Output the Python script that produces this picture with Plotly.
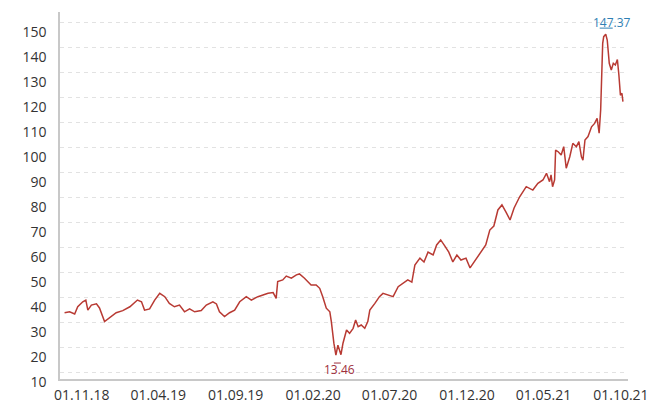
import plotly.graph_objects as go

# ---- data ----
dates = [
    "2018-09-28", "2018-10-08", "2018-10-18", "2018-10-24", "2018-11-03", "2018-11-09",
    "2018-11-13", "2018-11-20", "2018-11-30", "2018-12-06", "2018-12-16", "2018-12-26",
    "2019-01-08", "2019-01-21", "2019-02-04", "2019-02-19", "2019-02-27", "2019-03-05",
    "2019-03-15", "2019-03-25", "2019-04-04", "2019-04-14", "2019-04-23", "2019-05-03",
    "2019-05-13", "2019-05-23", "2019-06-02", "2019-06-12", "2019-06-25", "2019-07-05",
    "2019-07-18", "2019-07-25", "2019-07-31", "2019-08-10", "2019-08-20", "2019-08-30",
    "2019-09-09", "2019-09-22", "2019-10-02", "2019-10-15", "2019-10-25", "2019-11-04",
    "2019-11-14", "2019-11-20", "2019-11-23", "2019-12-03", "2019-12-10", "2019-12-20",
    "2019-12-30", "2020-01-05", "2020-01-15", "2020-01-28", "2020-02-07", "2020-02-14",
    "2020-02-20", "2020-02-27", "2020-03-05", "2020-03-08", "2020-03-13", "2020-03-17",
    "2020-03-21", "2020-03-27", "2020-03-31", "2020-04-07", "2020-04-13", "2020-04-20",
    "2020-04-25", "2020-04-30", "2020-05-06", "2020-05-13", "2020-05-19", "2020-05-23",
    "2020-06-02", "2020-06-11", "2020-06-18", "2020-06-28", "2020-07-08", "2020-07-18",
    "2020-07-28", "2020-08-06", "2020-08-14", "2020-08-20", "2020-08-30", "2020-09-07",
    "2020-09-15", "2020-09-25", "2020-10-02", "2020-10-10", "2020-10-18", "2020-10-26",
    "2020-11-03", "2020-11-11", "2020-11-19", "2020-11-29", "2020-12-07", "2020-12-15",
    "2020-12-22", "2020-12-30", "2021-01-07", "2021-01-15", "2021-01-23", "2021-01-31",
    "2021-02-08", "2021-02-16", "2021-02-24", "2021-03-04", "2021-03-12", "2021-03-15",
    "2021-03-28", "2021-04-10", "2021-04-20", "2021-04-30", "2021-05-07", "2021-05-13",
    "2021-05-16", "2021-05-19", "2021-05-23", "2021-05-25", "2021-05-30", "2021-06-05",
    "2021-06-10", "2021-06-15", "2021-06-22", "2021-06-28", "2021-07-05", "2021-07-10",
    "2021-07-15", "2021-07-18", "2021-07-22", "2021-07-28", "2021-08-04", "2021-08-10",
    "2021-08-15", "2021-08-19", "2021-08-22", "2021-08-26", "2021-08-28", "2021-09-01",
    "2021-09-04", "2021-09-08", "2021-09-12", "2021-09-16", "2021-09-20", "2021-09-24",
    "2021-09-27", "2021-09-30", "2021-10-03", "2021-10-05",
]
values = [
    31.1, 31.5, 30.6, 33.6, 35.7, 36.4,
    32.2, 34.3, 34.8, 33.1, 27.4, 28.9,
    31.1, 32.0, 33.6, 36.4, 35.7, 32.2,
    32.7, 36.4, 39.2, 37.8, 35.0, 33.6,
    34.3, 31.5, 32.7, 31.5, 32.0, 34.3,
    35.7, 34.8, 31.5, 29.5, 31.1, 32.2,
    35.7, 37.8, 36.4, 37.8, 38.5, 39.2,
    39.5, 37.1, 44.1, 44.8, 46.4, 45.5,
    46.9, 47.3, 45.5, 42.7, 42.7, 41.3,
    37.8, 33.0, 31.5, 27.4, 18.4, 13.46,
    17.6, 13.6, 18.4, 23.9, 22.5, 24.6,
    28.1, 25.3, 26.0, 24.6, 27.4, 32.2,
    35.0, 37.8, 39.2, 38.5, 37.8, 42.0,
    43.5, 44.8, 43.9, 51.0, 53.9, 52.3,
    56.4, 55.2, 59.4, 61.5, 59.0, 56.4,
    52.3, 55.2, 53.1, 53.9, 49.8, 52.3,
    54.8, 57.3, 59.4, 65.6, 67.3, 74.0,
    76.1, 73.1, 69.8, 74.8, 78.2, 79.5,
    83.7, 82.3, 85.1, 86.5, 89.3, 85.8,
    88.6, 83.7, 86.5, 99.0, 98.3, 96.9,
    100.4, 91.4, 96.2, 101.8, 100.4, 102.5,
    96.2, 94.8, 103.2, 104.6, 108.7, 110.1,
    112.2, 106.0, 115.7, 143.5, 146.3, 147.37,
    144.9, 135.2, 132.4, 135.2, 134.5, 136.8,
    130.3, 121.9, 122.7, 119.2,
]

y_tick_labels = ["150", "140", "130", "120", "110", "100", "90", "80",
                 "70", "60", "50", "40", "30", "20", "10"]
x_tick_dates = ["2018-11-01", "2019-04-01", "2019-09-01", "2020-02-01",
                "2020-07-01", "2020-12-01", "2021-05-01", "2021-10-01"]
x_tick_labels = ["01.11.18", "01.04.19", "01.09.19", "01.02.20",
                 "01.07.20", "01.12.20", "01.05.21", "01.10.21"]

# ---- layout constants ----
LINE_COLOR = "#b83a33"
MAX_COLOR = "#2f80b4"
MIN_COLOR = "#9e2f3c"
Y_RANGE = [3.46, 156.6]
GRID_TOP = 152.4
GRID_STEP = 10.43
grid_vals = [GRID_TOP - GRID_STEP * i for i in range(len(y_tick_labels))]

i_max = max(range(len(values)), key=lambda i: values[i])
i_min = min(range(len(values)), key=lambda i: values[i])

fig = go.Figure()
fig.add_trace(go.Scatter(
    x=dates, y=values, mode="lines",
    line=dict(color=LINE_COLOR, width=1.5),
    hoverinfo="skip", showlegend=False,
))

fig.add_annotation(x=dates[i_max], y=values[i_max], text=f"{values[i_max]:.2f}",
                   showarrow=False, xshift=6, yshift=12,
                   font=dict(family="Open Sans", size=12, color=MAX_COLOR))
fig.add_annotation(x=dates[i_min], y=values[i_min], text=f"{values[i_min]:.2f}",
                   showarrow=False, xshift=4, yshift=-14,
                   font=dict(family="Open Sans", size=12, color=MIN_COLOR))

# small pointer marks next to the extreme labels
fig.add_shape(type="line", xref="x", yref="y", xsizemode="pixel", ysizemode="pixel",
              xanchor=dates[i_max], yanchor=values[i_max],
              x0=-6, x1=7, y0=6, y1=6, line=dict(color=MAX_COLOR, width=1))
fig.add_shape(type="line", xref="x", yref="y", xsizemode="pixel", ysizemode="pixel",
              xanchor=dates[i_min], yanchor=values[i_min],
              x0=-2, x1=5, y0=-8, y1=-8, line=dict(color=MIN_COLOR, width=1))

fig.update_layout(
    width=653, height=412,
    margin=dict(l=52, r=33, t=4, b=41, autoexpand=False),
    paper_bgcolor="white", plot_bgcolor="white",
    font=dict(family="Open Sans", size=14, color="#333333"),
    xaxis=dict(
        type="date", range=["2018-09-19", "2021-10-15"], automargin=False,
        tickmode="array", tickvals=x_tick_dates, ticktext=x_tick_labels,
        showgrid=False, zeroline=False,
        showline=True, linecolor="#c8c8c8", linewidth=1.5,
        ticks="", tickfont=dict(size=14, color="#333333"),
        ticklabelstandoff=2,
    ),
    yaxis=dict(
        range=Y_RANGE, automargin=False,
        tickmode="array", tickvals=grid_vals, ticktext=y_tick_labels,
        showgrid=True, gridcolor="#e2e2e2", griddash="4px,4px", gridwidth=1,
        zeroline=False,
        showline=True, linecolor="#c8c8c8", linewidth=1.5,
        ticks="", tickfont=dict(size=14, color="#333333"),
        ticklabelshift=10, ticklabelstandoff=9,
    ),
)

fig.write_html("out.html")
